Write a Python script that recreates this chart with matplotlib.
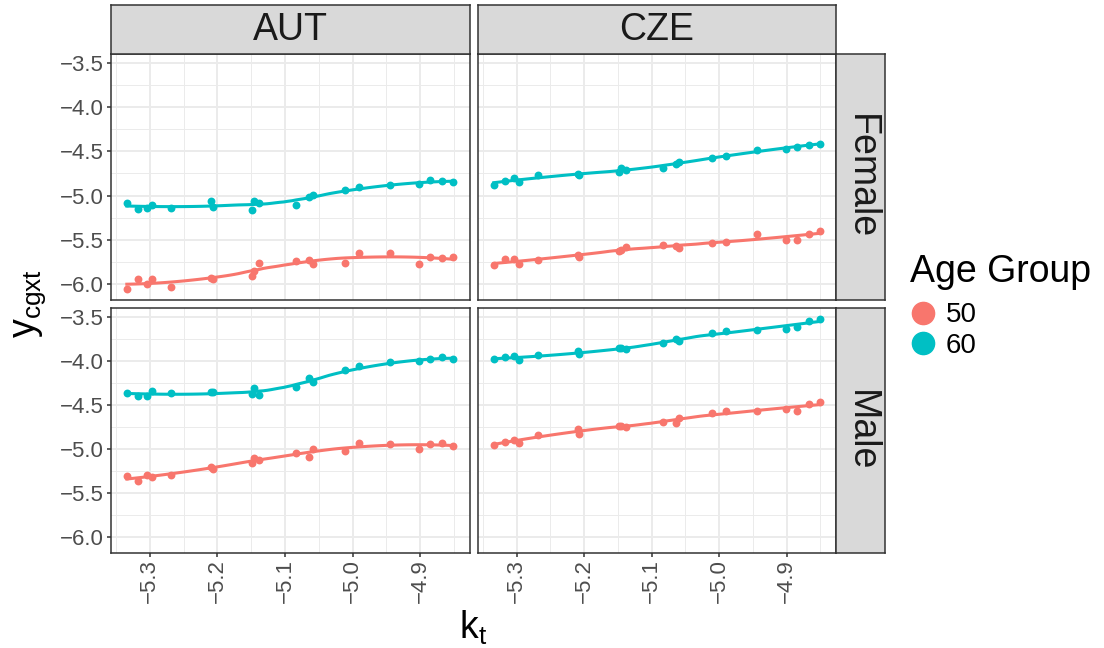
import numpy as np
import matplotlib
matplotlib.use('Agg')
import matplotlib.pyplot as plt
from matplotlib.lines import Line2D


# common period index k_t (shared by every panel)
kt = [-5.334, -5.318, -5.304, -5.296, -5.269, -5.209, -5.207, -5.149, -5.146, -5.138,
      -5.083, -5.064, -5.059, -5.011, -4.990, -4.944, -4.901, -4.885, -4.867, -4.851]

countries = ['AUT', 'CZE']
sexes = ['Female', 'Male']
age_groups = ['50', '60']

aut_f_50 = [-6.052, -5.936, -5.997, -5.944, -6.030, -5.930, -5.942, -5.903, -5.851, -5.765,
            -5.735, -5.731, -5.768, -5.761, -5.645, -5.653, -5.768, -5.694, -5.709, -5.698]
aut_f_60 = [-5.082, -5.153, -5.145, -5.108, -5.142, -5.059, -5.123, -5.168, -5.059, -5.089,
            -5.101, -5.018, -4.996, -4.936, -4.899, -4.884, -4.872, -4.824, -4.839, -4.847]
cze_f_50 = [-5.784, -5.720, -5.720, -5.773, -5.731, -5.668, -5.694, -5.630, -5.611, -5.578,
            -5.560, -5.571, -5.593, -5.537, -5.518, -5.437, -5.504, -5.496, -5.429, -5.395]
cze_f_60 = [-4.877, -4.835, -4.798, -4.847, -4.765, -4.760, -4.764, -4.731, -4.693, -4.712,
            -4.686, -4.641, -4.619, -4.574, -4.552, -4.485, -4.469, -4.447, -4.429, -4.418]
aut_m_50 = [-5.308, -5.361, -5.297, -5.319, -5.297, -5.203, -5.225, -5.157, -5.101, -5.127,
            -5.048, -5.089, -4.995, -5.018, -4.928, -4.946, -4.999, -4.946, -4.931, -4.965]
aut_m_60 = [-4.365, -4.396, -4.399, -4.346, -4.365, -4.351, -4.356, -4.377, -4.312, -4.388,
            -4.294, -4.199, -4.241, -4.105, -4.063, -4.015, -4.003, -3.981, -3.958, -3.984]
cze_m_50 = [-4.950, -4.916, -4.894, -4.935, -4.844, -4.769, -4.829, -4.735, -4.740, -4.747,
            -4.693, -4.708, -4.652, -4.595, -4.565, -4.572, -4.550, -4.572, -4.486, -4.471]
cze_m_60 = [-3.984, -3.962, -3.947, -3.989, -3.936, -3.894, -3.924, -3.856, -3.860, -3.871,
            -3.800, -3.755, -3.777, -3.687, -3.661, -3.653, -3.641, -3.622, -3.547, -3.528]

series = {
    ('AUT', 'Female'): {'50': aut_f_50, '60': aut_f_60},
    ('CZE', 'Female'): {'50': cze_f_50, '60': cze_f_60},
    ('AUT', 'Male'): {'50': aut_m_50, '60': aut_m_60},
    ('CZE', 'Male'): {'50': cze_m_50, '60': cze_m_60},
}

x_ticks = [-5.3, -5.2, -5.1, -5.0, -4.9]
x_labels = ['\u22125.3', '\u22125.2', '\u22125.1', '\u22125.0', '\u22124.9']
y_ticks = [-6.0, -5.5, -5.0, -4.5, -4.0, -3.5]
y_labels = ['\u22126.0', '\u22125.5', '\u22125.0', '\u22124.5', '\u22124.0', '\u22123.5']

colors = {'50': '#F8766D', '60': '#00BFC4'}


#-------------- loess smoother (like geom_smooth) --------------

def loess(x, y, xs, span=0.75):
    ''' local quadratic fit with tricube weights '''
    x = np.asarray(x)
    y = np.asarray(y)
    n = len(x)
    q = int(np.floor(n * span))
    out = []
    for x0 in xs:
        d = np.abs(x - x0)
        h = np.sort(d)[q - 1]
        w = np.clip(1 - (d / h) ** 3, 0, None) ** 3
        X = np.vstack([np.ones(n), x - x0, (x - x0) ** 2]).T
        sw = np.sqrt(w)
        beta = np.linalg.lstsq(X * sw[:, None], y * sw, rcond=None)[0]
        out.append(beta[0])
    return np.array(out)


def expand(vals, mult=0.05):
    lo, hi = min(vals), max(vals)
    r = hi - lo
    return lo - mult * r, hi + mult * r


#-------------- figure layout (pixel boxes) --------------

plt.rcParams['font.family'] = ['Liberation Sans', 'DejaVu Sans']
plt.rcParams['mathtext.fontset'] = 'custom'
plt.rcParams['mathtext.rm'] = 'Liberation Sans'
plt.rcParams['mathtext.it'] = 'Liberation Sans:italic'

W, H = 1104, 648
fig = plt.figure(figsize=(W / 100, H / 100), dpi=100)


def box(x0, y0, x1, y1):
    return [x0 / W, 1 - y1 / H, (x1 - x0) / W, (y1 - y0) / H]


panel_x = {'AUT': (110.5, 469.5), 'CZE': (477.5, 836)}
panel_y = {'Female': (54, 300), 'Male': (308, 553)}
strip_top = (5, 54)
strip_right = (836, 885)

all_y = [v for d in series.values() for s in d.values() for v in s]
xlim = expand(kt)
ylim = expand(all_y)
xs = np.linspace(min(kt), max(kt), 80)

border = '#333333'

for (country, sex), groups in series.items():
    x0, x1 = panel_x[country]
    y0, y1 = panel_y[sex]
    ax = fig.add_axes(box(x0, y0, x1, y1))
    ax.set_xticks(x_ticks)
    ax.set_yticks(y_ticks)
    ax.set_xticks(np.arange(-5.35, -4.8, 0.1), minor=True)
    ax.set_yticks(np.arange(-5.75, -3.6, 0.5), minor=True)
    ax.set_xlim(xlim)
    ax.set_ylim(ylim)
    ax.grid(which='major', color='#EBEBEB', linewidth=1.4)
    ax.grid(which='minor', color='#EBEBEB', linewidth=0.7)
    ax.set_axisbelow(True)
    for sp in ax.spines.values():
        sp.set_color(border)
        sp.set_linewidth(1.1)
    ax.tick_params(which='minor', length=0)
    ax.tick_params(which='major', length=3, width=1.1, color=border,
                   labelcolor='#4D4D4D', labelsize=16, pad=1.5)
    ax.tick_params(axis='x', labelrotation=90)
    if sex == 'Female':
        ax.tick_params(axis='x', labelbottom=False, length=0)
    if country == 'CZE':
        ax.tick_params(axis='y', labelleft=False, length=0)
    ax.set_yticklabels(y_labels)
    ax.set_xticklabels(x_labels)

    for age in age_groups:
        yv = groups[age]
        ax.scatter(kt, yv, s=32, color=colors[age], zorder=3, linewidths=0)
        ax.plot(xs, loess(kt, yv, xs), color=colors[age], linewidth=2.2, zorder=4)

# facet strips
for country in countries:
    x0, x1 = panel_x[country]
    sax = fig.add_axes(box(x0, strip_top[0], x1, strip_top[1]))
    sax.set_facecolor('#D9D9D9')
    sax.set_xticks([])
    sax.set_yticks([])
    for sp in sax.spines.values():
        sp.set_color(border)
        sp.set_linewidth(1.1)
    sax.text(0.5, 0.5, country, ha='center', va='center', fontsize=27,
             color='#1A1A1A', transform=sax.transAxes)

for sex in sexes:
    y0, y1 = panel_y[sex]
    sax = fig.add_axes(box(strip_right[0], y0, strip_right[1], y1))
    sax.set_facecolor('#D9D9D9')
    sax.set_xticks([])
    sax.set_yticks([])
    for sp in sax.spines.values():
        sp.set_color(border)
        sp.set_linewidth(1.1)
    sax.text(0.5, 0.5, sex, ha='center', va='center', fontsize=27, rotation=-90,
             color='#1A1A1A', transform=sax.transAxes)

# axis titles
fig.text(473 / W, 1 - 628 / H, r'$\mathrm{k_t}$', ha='center', va='center', fontsize=27)
fig.text(30 / W, 1 - 303 / H, r'$\mathrm{y_{cgxt}}$', ha='center', va='center',
         fontsize=27, rotation=90)

# legend
handles = [Line2D([], [], marker='o', linestyle='', color=colors[a], markersize=16)
           for a in age_groups]
leg = fig.legend(handles, age_groups, title='Age Group', loc='upper left',
                 bbox_to_anchor=(910 / W, 1 - 254 / H), frameon=False,
                 fontsize=20, title_fontsize=27, handlelength=0.9,
                 handletextpad=0.4, labelspacing=0.15, borderpad=0, borderaxespad=0)
leg._legend_box.align = 'left'
# a bit more room between the title and the keys
leg._legend_box.sep = 9

fig.savefig('out.png', dpi=100)
